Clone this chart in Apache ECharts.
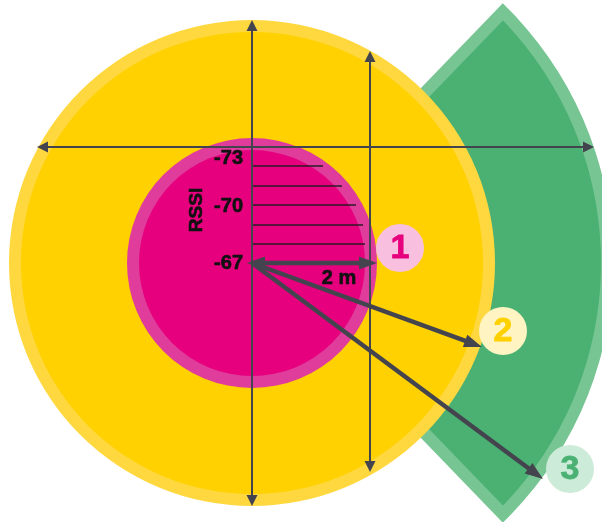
<!DOCTYPE html>
<html><head><meta charset="utf-8">
<script src="https://cdn.jsdelivr.net/npm/echarts@6/dist/echarts.min.js"></script>
<style>html,body{margin:0;padding:0;background:#fff}#c{width:602px;height:522px}</style>
</head><body><div id="c"></div>
<script>
// ---------- data (chart units: origin = beacon position; 2 m = 125 units) ----------
const zoneNames = ['1', '2', '3'];
const zoneRadius = [125, 243, 361];          // zone 1 (magenta), zone 2 (yellow), zone 3 (green)
const sectorAngleDeg = [-46, 46];            // green zone sector, degrees from +x (counter-clockwise)
const rssiTickY = [19, 38, 58, 77, 97];
const rssiTickLen = [113, 111, 104, 90, 71];
const rssiLabels = ['-67', '-70', '-73'];
const rssiLabelY = [0, 57, 105];
const axisFrom = [[-215, 116], [0, 243], [118, 212]];
const axisTo = [[342, 116], [0, -243], [118, -209]];
const rangeFrom = [[-5, 0], [0, 0], [0, 0]];
const rangeTo = [[125, 0], [230, -84], [291, -216]];
const rangeDouble = [1, 0, 0];
const badgePos = [[148, 15], [251, -68], [318, -206]];
const badgeRadius = 24;
const distanceLabel = '2 m';
const distanceLabelPos = [87, -15];
const axisTitle = 'RSSI';
const axisTitlePos = [-55, 53];

// ---------- rendering ----------
const chart = echarts.init(document.getElementById('c'), null, { renderer: 'canvas' });
const FONT = '"Liberation Sans", Arial, sans-serif';
const LINE = '#44444f';
const TEXT = '#111111';
const zoneColors = [
  { rim: '#e03c9b', fill: '#e6007e', badge: '#f8c0de' },
  { rim: '#ffd83f', fill: '#ffd100', badge: '#fff4c2' },
  { rim: '#78c594', fill: '#4ab173', badge: '#cdebd9' }
];
const RIM = 12;

function renderZone(params, api) {
  const idx = api.value(3);
  const c = api.coord([api.value(0), api.value(1)]);
  const R = api.size([api.value(2), 0])[0];
  const col = zoneColors[idx];
  if (idx === 2) {
    const s1 = -sectorAngleDeg[1] * Math.PI / 180;
    const s2 = -sectorAngleDeg[0] * Math.PI / 180;
    const outer = { type: 'sector', shape: { cx: c[0], cy: c[1], r0: 0, r: R, startAngle: s1, endAngle: s2, clockwise: true }, style: { fill: col.rim } };
    const d = RIM;
    const t = Math.sqrt((R - d) * (R - d) - d * d);
    const u1 = [Math.cos(s1), Math.sin(s1)], n1 = [Math.cos(s1 + Math.PI / 2), Math.sin(s1 + Math.PI / 2)];
    const u2 = [Math.cos(s2), Math.sin(s2)], n2 = [Math.cos(s2 - Math.PI / 2), Math.sin(s2 - Math.PI / 2)];
    const P1 = [t * u1[0] + d * n1[0], t * u1[1] + d * n1[1]];
    const P2 = [t * u2[0] + d * n2[0], t * u2[1] + d * n2[1]];
    const f1 = Math.atan2(P1[1], P1[0]), f2 = Math.atan2(P2[1], P2[0]);
    const half = (s2 - s1) / 2, mid = (s1 + s2) / 2;
    const v0 = d / Math.sin(half);
    const pts = [[c[0] + v0 * Math.cos(mid), c[1] + v0 * Math.sin(mid)]];
    const N = 80;
    for (let i = 0; i <= N; i++) {
      const a = f1 + (f2 - f1) * i / N;
      pts.push([c[0] + (R - d) * Math.cos(a), c[1] + (R - d) * Math.sin(a)]);
    }
    const inner = { type: 'polygon', shape: { points: pts }, style: { fill: col.fill } };
    return { type: 'group', z2: 1, children: [outer, inner] };
  }
  return {
    type: 'group', children: [
      { type: 'circle', shape: { cx: c[0], cy: c[1], r: R }, style: { fill: col.rim } },
      { type: 'circle', shape: { cx: c[0], cy: c[1], r: R - RIM }, style: { fill: col.fill } }
    ]
  };
}

function arrowRenderer(lw, hl, hw, color) {
  return function (params, api) {
    const p1 = api.coord([api.value(0), api.value(1)]);
    const p2 = api.coord([api.value(2), api.value(3)]);
    const dbl = api.value(4) === 1;
    const dx = p2[0] - p1[0], dy = p2[1] - p1[1];
    const L = Math.hypot(dx, dy);
    const ux = dx / L, uy = dy / L, nx = -uy, ny = ux;
    const head = (tip, vx, vy) => ({
      type: 'polygon',
      shape: { points: [tip,
        [tip[0] - vx * hl + nx * hw / 2, tip[1] - vy * hl + ny * hw / 2],
        [tip[0] - vx * hl - nx * hw / 2, tip[1] - vy * hl - ny * hw / 2]] },
      style: { fill: color }
    });
    const s = dbl ? [p1[0] + ux * hl * 0.7, p1[1] + uy * hl * 0.7] : p1;
    const e = [p2[0] - ux * hl * 0.7, p2[1] - uy * hl * 0.7];
    const children = [
      { type: 'line', shape: { x1: s[0], y1: s[1], x2: e[0], y2: e[1] }, style: { stroke: color, lineWidth: lw } },
      head(p2, ux, uy)
    ];
    if (dbl) children.push(head(p1, -ux, -uy));
    return { type: 'group', children };
  };
}

const zoneData = [2, 1, 0].map(i => [0, 0, zoneRadius[i], i]);
const tickData = rssiTickY.map((y, i) => [0, y, rssiTickLen[i]]);
const axisData = axisFrom.map((p, i) => [p[0], p[1], axisTo[i][0], axisTo[i][1], 1]);
const rangeData = rangeFrom.map((p, i) => [p[0], p[1], rangeTo[i][0], rangeTo[i][1], rangeDouble[i]]);
const rssiData = rssiLabels.map((t, i) => [0, rssiLabelY[i], i]);
const badgeData = badgePos.map((p, i) => [p[0], p[1], i]);

chart.setOption({
  animation: false,
  backgroundColor: '#ffffff',
  grid: { left: 0, right: 0, top: 0, bottom: 0 },
  xAxis: { type: 'value', min: -252, max: 350, show: false },
  yAxis: { type: 'value', min: -259, max: 263, show: false },
  series: [
    { type: 'custom', name: 'zones', data: zoneData, renderItem: renderZone, silent: true },
    {
      type: 'custom', name: 'rssiTicks', data: tickData, silent: true,
      renderItem: (params, api) => {
        const a = api.coord([api.value(0), api.value(1)]);
        const b = api.coord([api.value(2), api.value(1)]);
        return { type: 'line', shape: { x1: a[0], y1: a[1], x2: b[0], y2: b[1] }, style: { stroke: '#2a1a26', lineWidth: 1.5 } };
      }
    },
    { type: 'custom', name: 'axes', data: axisData, renderItem: arrowRenderer(2, 11, 11, LINE), silent: true },
    { type: 'custom', name: 'ranges', data: rangeData, renderItem: arrowRenderer(4.5, 18, 13, LINE), silent: true },
    {
      type: 'custom', name: 'rssiLabels', data: rssiData, silent: true,
      renderItem: (params, api) => {
        const p = api.coord([api.value(0), api.value(1)]);
        return { type: 'text', x: p[0] - 9, y: p[1], style: { text: rssiLabels[api.value(2)], fill: TEXT, stroke: TEXT, lineWidth: 0.6, fontFamily: FONT, fontWeight: 'bold', fontSize: 20, align: 'right', verticalAlign: 'middle' } };
      }
    },
    {
      type: 'custom', name: 'titles', data: [[axisTitlePos[0], axisTitlePos[1], 0], [distanceLabelPos[0], distanceLabelPos[1], 1]], silent: true,
      renderItem: (params, api) => {
        const p = api.coord([api.value(0), api.value(1)]);
        const isTitle = api.value(2) === 0;
        return { type: 'text', x: p[0], y: p[1], rotation: isTitle ? Math.PI / 2 : 0,
          style: { text: isTitle ? axisTitle : distanceLabel, fill: TEXT, stroke: TEXT, lineWidth: 0.6, fontFamily: FONT, fontWeight: 'bold', fontSize: isTitle ? 19 : 20, align: 'center', verticalAlign: 'middle' } };
      }
    },
    {
      type: 'custom', name: 'badges', data: badgeData, silent: true,
      renderItem: (params, api) => {
        const p = api.coord([api.value(0), api.value(1)]);
        const i = api.value(2);
        const r = api.size([badgeRadius, 0])[0];
        return { type: 'group', children: [
          { type: 'circle', shape: { cx: p[0], cy: p[1], r }, style: { fill: zoneColors[i].badge } },
          { type: 'text', x: p[0], y: p[1] + 1, style: { text: zoneNames[i], fill: zoneColors[i].fill, stroke: zoneColors[i].fill, lineWidth: 0.8, fontFamily: FONT, fontWeight: 'bold', fontSize: 34, align: 'center', verticalAlign: 'middle' } }
        ] };
      }
    }
  ]
});
</script>
</body></html>
